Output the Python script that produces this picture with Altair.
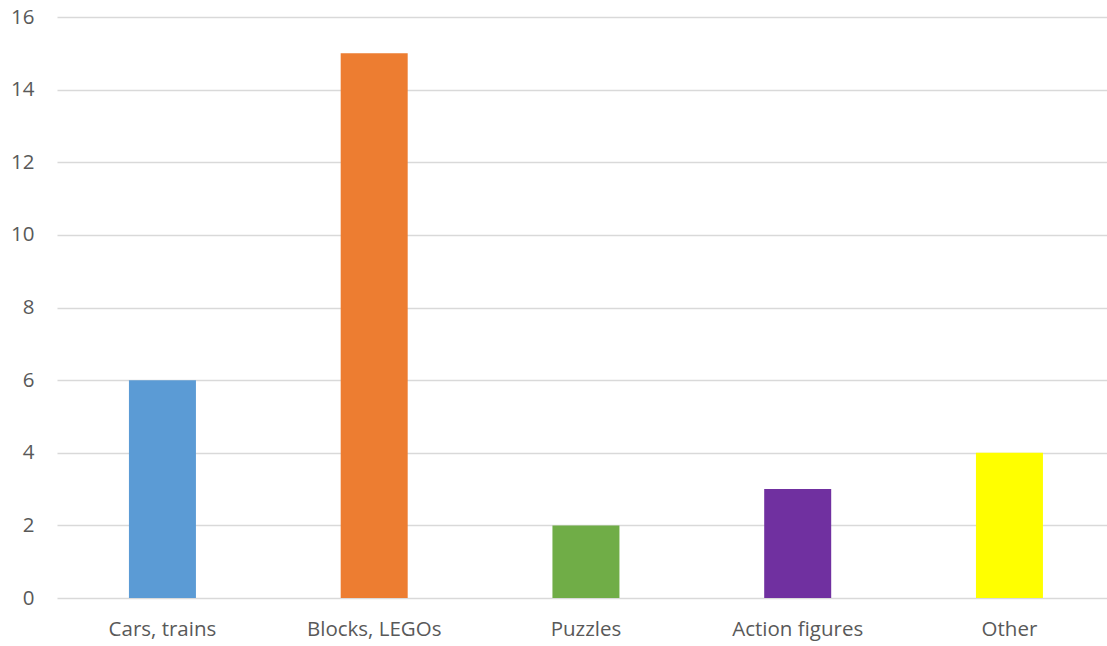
import altair as alt
import pandas as pd

categories = ["Cars, trains", "Blocks, LEGOs", "Puzzles", "Action figures", "Other"]
counts = [6, 15, 2, 3, 4]
colors = ["#5B9BD5", "#ED7D31", "#70AD47", "#7030A0", "#FFFF00"]

df = pd.DataFrame({"category": categories, "count": counts})

font = "Open Sans"
label_color = "#595959"

chart = (
    alt.Chart(df)
    .mark_bar()
    .encode(
        x=alt.X(
            "category:N",
            sort=categories,
            title=None,
            scale=alt.Scale(paddingInner=0.6836, paddingOuter=0.3211, align=0.529),
            axis=alt.Axis(
                labelAngle=0,
                labelFont=font,
                labelFontSize=20.5,
                labelColor=label_color,
                labelPadding=21,
                ticks=False,
                domain=False,
                grid=False,
            ),
        ),
        y=alt.Y(
            "count:Q",
            title=None,
            scale=alt.Scale(domain=[0, 16], nice=False),
            axis=alt.Axis(
                values=list(range(0, 17, 2)),
                labelFont=font,
                labelFontSize=20.5,
                labelColor=label_color,
                labelPadding=23,
                ticks=False,
                domain=False,
                gridColor="#D9D9D9",
                gridWidth=1.5,
            ),
        ),
        color=alt.Color(
            "category:N",
            scale=alt.Scale(domain=categories, range=colors),
            legend=None,
        ),
    )
    .properties(
        width=1050,
        height=581,
        autosize="none",
        background="white",
        padding={"left": 57, "top": 17, "right": 0, "bottom": 48},
    )
    .configure_view(strokeWidth=0, stroke="transparent")
)

chart.save("out.html", embed_options={"renderer": "svg", "actions": False})
